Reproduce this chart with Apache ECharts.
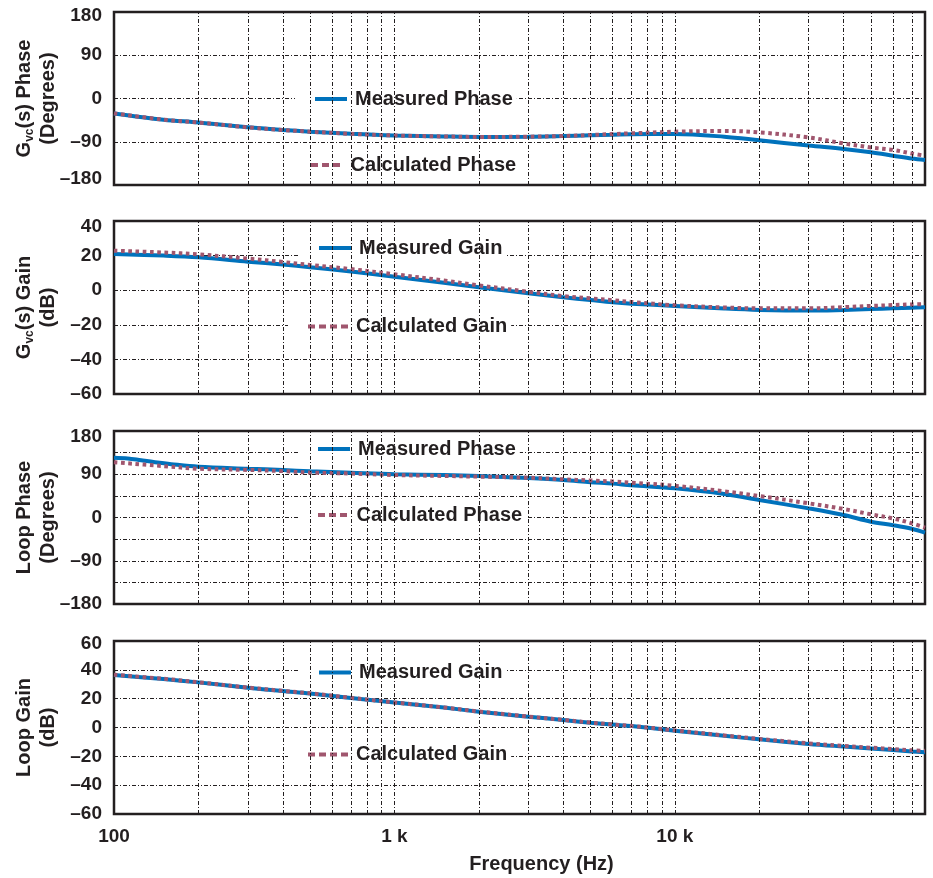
<!DOCTYPE html>
<html>
<head>
<meta charset="utf-8">
<script src="https://cdn.jsdelivr.net/npm/echarts@6/dist/echarts.min.js"></script>
<style>
html,body{margin:0;padding:0;background:#fff;}
#chart{width:933px;height:878px;}
</style>
</head>
<body>
<div id="chart"></div>
<script>
// ---------------- data ----------------
const freq = [100,150,200,300,400,500,700,1000,1500,2000,3000,4000,5000,6000,7000,10000,15000,20000,30000,40000,50000,60000,70000,78000];
const vcPhaseMeas = [-31,-44,-50,-60,-65.5,-69,-73.5,-77,-79,-80,-79.5,-78,-76.5,-75.5,-74.5,-74,-79.5,-87,-98,-105,-112,-119,-125,-128];
const vcPhaseCalc = [-31,-44,-50,-60,-65.5,-69,-73.5,-77,-79,-80,-79.5,-78,-76,-74,-72.5,-69,-67.5,-70.5,-81,-93.5,-102,-107,-114.5,-119];
const vcGainMeas = [20.9,20,19,16.5,14.8,13.3,10.8,7.8,4.3,1.7,-1.8,-4.1,-5.7,-7,-7.8,-9.1,-10.6,-11.4,-11.8,-11.4,-10.9,-10.5,-10.1,-9.9];
const vcGainCalc = [22.8,21.8,20.7,18.3,16.3,14.6,12.2,9.2,5.6,2.8,-0.9,-3.4,-4.7,-5.8,-6.8,-8.7,-10,-10.5,-10.5,-9.8,-9.1,-8.6,-8.2,-8.0];
const loopPhaseMeasFreq = [100,112,125,140,160,200,300,400,500,700,1000,1500,2000,3000,4000,5000,6000,7000,10000,15000,20000,30000,40000,50000,60000,70000,78000];
const loopPhaseMeas = [124.5,123,119,115,111,105.7,101.5,98.8,96,93,90,88.5,86.5,82,78,73.5,70.5,67,60.7,49,36.4,19,5.2,-8.7,-16,-23.5,-31.6];
const loopPhaseCalc = [115,107,101.5,99,96.5,93.5,91.5,88.4,86.5,85,82.8,79.5,77,75,72.5,66,54.5,44.7,29.5,17.7,6.6,-2,-12,-21.2];
const loopGainMeas = [36.4,33.6,31.3,27.6,25.3,23.6,20.5,17.3,13.8,11,7.5,5.2,3.3,2,1,-2.2,-5.8,-8.2,-11.4,-13.2,-14.5,-15.6,-16.6,-17.2];
const loopGainCalc = [36.6,33.8,31.4,27.7,25.4,23.7,20.6,17.4,13.9,11.1,7.6,5.3,3.4,2.1,1.1,-2,-5.5,-7.9,-11,-12.8,-14,-15,-15.8,-16.2];

const xGridLines = [200,300,400,500,600,700,800,900,1000,2000,3000,4000,5000,6000,7000,8000,9000,10000,20000,30000,40000,50000,60000,70000];
const xTickLabels = {100:'100',1000:'1 k',10000:'10 k'};
const xRange = [100, 78000];

const panelNames = ['G{sub|vc}(s) Phase\n(Degrees)','G{sub|vc}(s) Gain\n(dB)','Loop Phase\n(Degrees)','Loop Gain\n(dB)'];
const yRanges = [[-180,180],[-60,40],[-180,180],[-60,60]];
const yIntervals = [90,20,45,20];
const yLabelStep = [90,20,90,20];
const legendNames = [['Measured Phase','Calculated Phase'],['Measured Gain','Calculated Gain'],['Measured Phase','Calculated Phase'],['Measured Gain','Calculated Gain']];
const xAxisName = 'Frequency (Hz)';

// ---------------- styles ----------------
const INK = '#231f20';
const BLUE = '#0072bc';
const MAUVE = '#a0566e';
const FONT = '"Liberation Sans", Arial, Helvetica, sans-serif';
const gridTops = [12, 221, 431, 641];
const gridH = 173;
const dashDot = [4,2,1,2];
const topPad = [8, 11, 11, 5];
const botPad = [12, 0, 0, 0];

function pairs(xs, ys){ return xs.map((x,i)=>[x, ys[i]]); }
function fmtNum(v){ return v < 0 ? '\u2013' + Math.abs(v) : String(v); }

const grids = [], xAxes = [], yAxes = [], series = [], legends = [];

const seriesData = [
  [pairs(freq, vcPhaseMeas), pairs(freq, vcPhaseCalc)],
  [pairs(freq, vcGainMeas), pairs(freq, vcGainCalc)],
  [pairs(loopPhaseMeasFreq, loopPhaseMeas), pairs(freq, loopPhaseCalc)],
  [pairs(freq, loopGainMeas), pairs(freq, loopGainCalc)]
];

// legend positions: [iconLeft, centerY]
const legendPos = [
  [[315,100],[311,166]],
  [[319,249],[308,327.5]],
  [[318,450],[318,516]],
  [[319,673.5],[308,755.5]]
];
const dash3 = 'path://M0 0H7V4H0Z M11 0H18V4H11Z M22 0H29V4H22Z';
const dash4 = 'path://M0 0H7V4H0Z M11 0H18V4H11Z M22 0H29V4H22Z M33 0H40V4H33Z';

for (let p = 0; p < 4; p++) {
  grids.push({left:114, right:8, top:gridTops[p], height:gridH, show:true, borderColor:INK, borderWidth:2.5,
    backgroundColor:'transparent', containLabel:false, outerBoundsMode:'none'});
  const isBottom = p === 3;
  xAxes.push({
    type:'log', logBase:10, gridIndex:p, min:xRange[0], max:xRange[1],
    axisLine:{show:false}, axisTick:{show:false}, splitLine:{show:false},
    axisLabel:{show:isBottom, margin:13, fontSize:19, fontWeight:'bold', color:INK, fontFamily:FONT,
      formatter: v => xTickLabels[Math.round(v)] || ''},
    name: isBottom ? xAxisName : '', nameLocation:'middle', nameGap:40, nameMoveOverlap:false,
    nameTextStyle:{fontSize:20, fontWeight:'bold', color:INK, fontFamily:FONT, padding:[0,0,0,44]}
  });
  const [ymin, ymax] = yRanges[p];
  const step = yLabelStep[p];
  const lblStyle = {fontSize:19, fontWeight:'bold', color:INK, fontFamily:FONT};
  yAxes.push({
    type:'value', gridIndex:p, min:ymin, max:ymax, interval:yIntervals[p],
    axisLine:{show:false}, axisTick:{show:false},
    splitLine:{show:true, lineStyle:{color:INK, width:1, type:dashDot}},
    axisLabel:{margin:12, ...lblStyle,
      formatter: v => {
        if (v % step !== 0) return '';
        const s = fmtNum(v);
        if (v === ymax && topPad[p]) return '{t|' + s + '}';
        if (v === ymin && botPad[p]) return '{b|' + s + '}';
        return s;
      },
      rich:{
        t:{...lblStyle, padding:[topPad[p],0,0,0]},
        b:{...lblStyle, padding:[0,0,botPad[p],0]}
      }
    },
    name: panelNames[p], nameLocation:'middle', nameGap:54, nameRotate:90, nameMoveOverlap:false,
    nameTextStyle:{fontSize:20, fontWeight:'bold', color:INK, fontFamily:FONT, lineHeight:24, align:'center',
      rich:{ sub:{fontSize:12, fontWeight:'bold', color:INK, fontFamily:FONT, verticalAlign:'bottom', lineHeight:12} }
    }
  });
  // vertical grid lines through the log axis
  series.push({
    type:'line', name:'vgrid'+p, xAxisIndex:p, yAxisIndex:p, data:[], z:1, silent:true,
    markLine:{silent:true, symbol:['none','none'], label:{show:false}, animation:false,
      lineStyle:{color:INK, width:1, type:dashDot}, emphasis:{disabled:true},
      data: xGridLines.map(x => ({xAxis:x}))}
  });
  const [meas, calc] = seriesData[p];
  series.push({
    type:'line', name:legendNames[p][0], xAxisIndex:p, yAxisIndex:p, data:meas,
    smooth:0.35, symbol:'none', z:3, color:BLUE,
    itemStyle:{color:BLUE},
    lineStyle:{color:BLUE, width:4}
  });
  series.push({
    type:'line', name:legendNames[p][1], xAxisIndex:p, yAxisIndex:p, data:calc,
    smooth:0.35, symbol:'none', z:4, color:MAUVE,
    itemStyle:{color:MAUVE},
    lineStyle:{color:MAUVE, width:4, type:[3.6,3.6], cap:'butt'}
  });
  const isGain = (p === 1 || p === 3);
  const txt = {fontSize:20, fontWeight:'bold', color:INK, fontFamily:FONT};
  const padL = 20, padT = 5;
  legends.push({
    data:[legendNames[p][0]], selectedMode:false, orient:'horizontal',
    left: legendPos[p][0][0] - padL, top: legendPos[p][0][1] - padT - 11,
    icon:'rect', itemWidth:32, itemHeight:4,
    padding:[padT,4,padT,padL], backgroundColor:'#fff',
    textStyle:{...txt, padding:[0,0,0,3]}
  });
  legends.push({
    data:[legendNames[p][1]], selectedMode:false, orient:'horizontal',
    left: legendPos[p][1][0] - padL, top: legendPos[p][1][1] - padT - 11,
    icon: isGain ? dash4 : dash3, itemWidth: isGain ? 40 : (p === 0 ? 30 : 32), itemHeight:4,
    padding:[padT,4,padT,padL], backgroundColor:'#fff',
    textStyle:{...txt, padding:[0,0,0, p === 0 ? 5 : 3]}
  });
}

const chart = echarts.init(document.getElementById('chart'), null, {renderer:'canvas'});
chart.setOption({
  animation:false,
  backgroundColor:'#fff',
  grid:grids, xAxis:xAxes, yAxis:yAxes, series:series, legend:legends
});
</script>
</body>
</html>
